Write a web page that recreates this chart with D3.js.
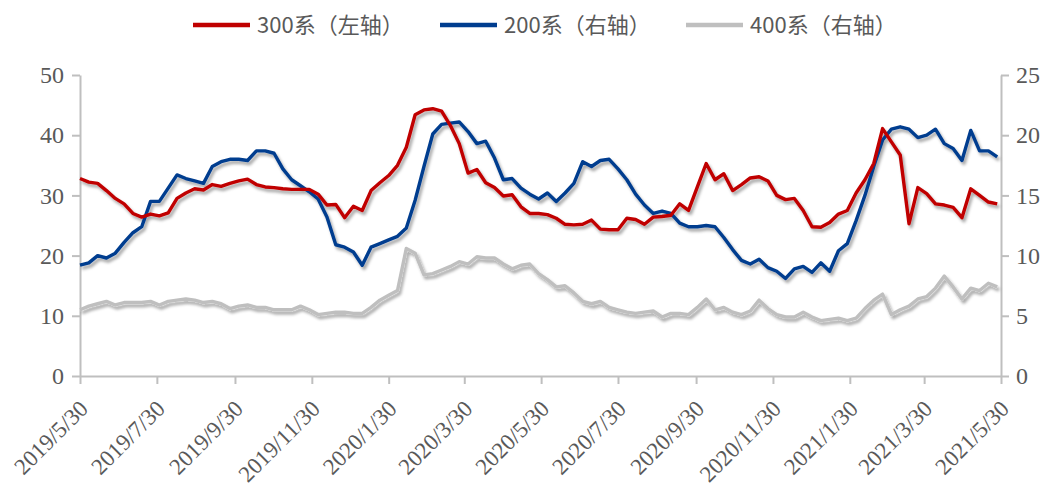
<!DOCTYPE html>
<html>
<head>
<meta charset="utf-8">
<script src="https://cdn.jsdelivr.net/npm/d3@7"></script>
<style>
  body { margin: 0; background: #fff; }
  svg { display: block; }
</style>
</head>
<body>
<div class="svg-container"></div>
<script>
// weekly series, 2019/5/30 .. 2021/5/27
const s300 = [
  32.8, 32.2, 32.0, 30.8, 29.5, 28.6, 27.0, 26.4, 26.9, 26.6,
  27.1, 29.5, 30.4, 31.1, 30.9, 31.8, 31.5, 32.0, 32.4, 32.7,
  31.8, 31.4, 31.3, 31.1, 31.0, 31.0, 31.0, 30.2, 28.4, 28.5,
  26.3, 28.2, 27.5, 30.8, 32.1, 33.3, 35.0, 38.0, 43.4, 44.2,
  44.4, 44.0, 41.6, 38.6, 33.7, 34.3, 32.1, 31.3, 29.9, 30.1,
  28.1, 27.0, 27.0, 26.8, 26.2, 25.2, 25.1, 25.2, 25.9, 24.4,
  24.3, 24.3, 26.2, 26.0, 25.2, 26.4, 26.5, 26.7, 28.6, 27.5,
  31.4, 35.3, 32.6, 33.6, 30.8, 31.8, 32.9, 33.1, 32.4, 30.0,
  29.3, 29.5, 27.5, 24.8, 24.7, 25.5, 26.9, 27.5, 30.4, 32.6,
  35.3, 41.1, 38.9, 36.7, 25.3, 31.3, 30.3, 28.6, 28.4, 28.0,
  26.3, 31.1, 30.0, 28.9, 28.6
]
const s200 = [
  9.2, 9.4, 10.0, 9.8, 10.2, 11.1, 11.9, 12.4, 14.5, 14.5,
  15.6, 16.7, 16.4, 16.2, 16.0, 17.4, 17.8, 18.0, 18.0, 17.9,
  18.7, 18.7, 18.5, 17.2, 16.3, 15.8, 15.3, 14.7, 13.2, 10.9,
  10.7, 10.3, 9.2, 10.7, 11.0, 11.3, 11.6, 12.3, 14.6, 17.4,
  20.1, 20.9, 21.0, 21.1, 20.3, 19.3, 19.5, 18.1, 16.3, 16.4,
  15.6, 15.1, 14.7, 15.2, 14.5, 15.2, 16.0, 17.8, 17.4, 17.9,
  18.0, 17.2, 16.3, 15.1, 14.2, 13.5, 13.7, 13.5, 12.7, 12.4,
  12.4, 12.5, 12.4, 11.5, 10.5, 9.6, 9.3, 9.7, 9.0, 8.7,
  8.1, 8.9, 9.1, 8.6, 9.4, 8.7, 10.4, 11.0, 12.9, 15.0,
  17.4, 19.6, 20.5, 20.7, 20.5, 19.8, 20.0, 20.5, 19.3, 18.9,
  17.9, 20.4, 18.7, 18.7, 18.2
]
const s400 = [
  5.5, 5.8, 6.0, 6.2, 5.9, 6.1, 6.1, 6.1, 6.2, 5.9,
  6.2, 6.3, 6.4, 6.3, 6.1, 6.2, 6.0, 5.6, 5.8, 5.9,
  5.7, 5.7, 5.5, 5.5, 5.5, 5.8, 5.5, 5.1, 5.2, 5.3,
  5.3, 5.2, 5.2, 5.7, 6.3, 6.7, 7.1, 10.6, 10.2, 8.4,
  8.5, 8.8, 9.1, 9.5, 9.3, 9.9, 9.8, 9.8, 9.3, 8.9,
  9.2, 9.3, 8.5, 8.0, 7.4, 7.5, 6.9, 6.2, 6.0, 6.2,
  5.7, 5.5, 5.3, 5.2, 5.3, 5.4, 4.9, 5.2, 5.2, 5.1,
  5.7, 6.4, 5.5, 5.7, 5.3, 5.1, 5.4, 6.3, 5.6, 5.1,
  4.9, 4.9, 5.3, 4.9, 4.6, 4.7, 4.8, 4.6, 4.8, 5.6,
  6.3, 6.8, 5.1, 5.5, 5.8, 6.4, 6.6, 7.3, 8.3, 7.4,
  6.4, 7.3, 7.1, 7.7, 7.4
]
const tickLabels = [
  '2019/5/30', '2019/7/30', '2019/9/30', '2019/11/30', '2020/1/30',
  '2020/3/30', '2020/5/30', '2020/7/30', '2020/9/30', '2020/11/30',
  '2021/1/30', '2021/3/30', '2021/5/30'
]
const seriesNames = ['300系（左轴）', '200系（右轴）', '400系（右轴）']
const colors = ['#C00000', '#003D8F', '#BFBFBF']

const width = 1043
const height = 486
const plotLeft = 80
const plotRight = 1001
const plotTop = 75
const plotBottom = 376
const serif = '"Liberation Serif", "Times New Roman", Times, serif'

const parse = d3.timeParse('%Y/%m/%d')
const start = parse(tickLabels[0])
const dates = s300.map((_, i) => d3.timeDay.offset(start, i * 7))

const svg = d3.select('.svg-container')
  .append('svg')
  .attr('width', width)
  .attr('height', height)

const filter = svg.append('defs').append('filter')
  .attr('id', 'shadow')
  .attr('x', '-5%').attr('y', '-20%')
  .attr('width', '110%').attr('height', '140%')
filter.append('feDropShadow')
  .attr('dx', 2).attr('dy', 3)
  .attr('stdDeviation', 1.6)
  .attr('flood-color', '#000')
  .attr('flood-opacity', 0.35)

const xScale = d3.scaleTime([start, parse(tickLabels[tickLabels.length - 1])], [plotLeft, plotRight])
const yLeft = d3.scaleLinear([0, 50], [plotBottom, plotTop])
const yRight = d3.scaleLinear([0, 25], [plotBottom, plotTop])

const xAxis = d3.axisBottom(xScale)
  .tickValues(tickLabels.map(parse))
  .tickFormat(d3.timeFormat('%Y/%-m/%-d'))
  .tickSize(8)
  .tickSizeOuter(0)

const gx = svg.append('g')
  .attr('transform', `translate(0, ${plotBottom})`)
  .call(xAxis)
  .attr('font-family', serif)
  .attr('font-size', 23)

gx.selectAll('text')
  .attr('transform', 'translate(9, 34) rotate(-45)')
  .attr('text-anchor', 'end')
  .attr('dy', 0)
  .attr('x', 0).attr('y', 0)

svg.append('g')
  .attr('transform', `translate(${plotLeft}, 0)`)
  .call(d3.axisLeft(yLeft).ticks(5).tickSize(8).tickSizeOuter(0).tickPadding(8))
  .attr('font-family', serif)
  .attr('font-size', 24)

svg.append('g')
  .attr('transform', `translate(${plotRight}, 0)`)
  .call(d3.axisRight(yRight).ticks(5).tickSize(8).tickSizeOuter(0).tickPadding(7))
  .attr('font-family', serif)
  .attr('font-size', 24)

svg.selectAll('.domain, .tick line').attr('stroke', '#BFBFBF').attr('stroke-width', 2)
svg.selectAll('.tick text').attr('fill', '#595959')

const lineLeft = d3.line()
  .x((d, i) => xScale(dates[i]))
  .y(d => yLeft(d))
const lineRight = d3.line()
  .x((d, i) => xScale(dates[i]))
  .y(d => yRight(d))

const plot = svg.append('g').attr('filter', 'url(#shadow)')

plot.append('path')
  .datum(s400)
  .attr('d', lineRight)
  .attr('fill', 'none')
  .attr('stroke', colors[2])
  .attr('stroke-width', 3.4)
  .attr('stroke-linejoin', 'round')

plot.append('path')
  .datum(s200)
  .attr('d', lineRight)
  .attr('fill', 'none')
  .attr('stroke', colors[1])
  .attr('stroke-width', 3.4)
  .attr('stroke-linejoin', 'round')

plot.append('path')
  .datum(s300)
  .attr('d', lineLeft)
  .attr('fill', 'none')
  .attr('stroke', colors[0])
  .attr('stroke-width', 3.4)
  .attr('stroke-linejoin', 'round')

// legend
const legendX = [193, 440, 686]
const legend = svg.append('g')
seriesNames.forEach((name, i) => {
  const g = legend.append('g').attr('transform', `translate(${legendX[i]}, 25)`)
  g.append('line')
    .attr('x1', 0).attr('x2', 57)
    .attr('stroke', colors[i])
    .attr('stroke-width', 4.5)
  g.append('text')
    .attr('x', 64)
    .attr('dy', '0.35em')
    .attr('fill', '#595959')
    .style('font-family', '"Noto Sans CJK SC", sans-serif')
    .style('font-size', '22px')
    .text(name)
})
</script>
</body>
</html>
